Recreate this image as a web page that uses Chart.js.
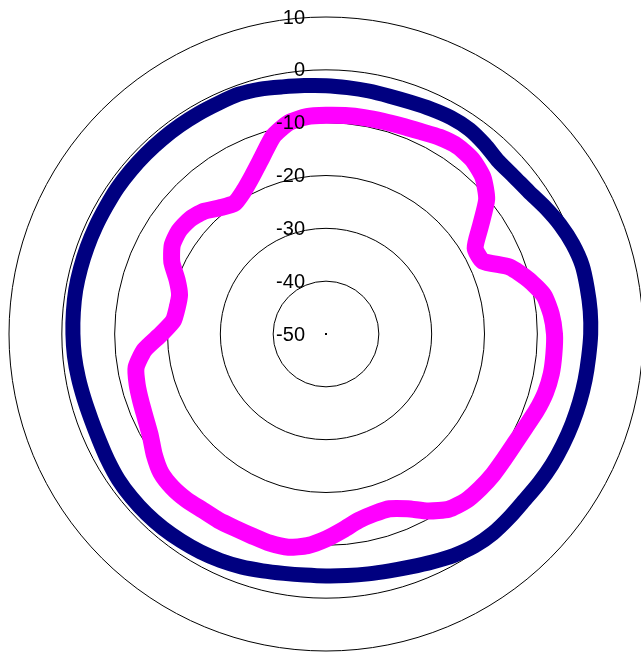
<!DOCTYPE html>
<html>
<head>
<meta charset="utf-8">
<script src="https://cdn.jsdelivr.net/npm/chart.js@4.4.1/dist/chart.umd.min.js"></script>
<style>
  html, body { margin: 0; padding: 0; background: #fff; overflow: hidden; }
  #wrap { position: absolute; left: 0; top: 0; width: 660px; height: 670px; }
</style>
</head>
<body>
<div id="wrap"><canvas id="chart" width="660" height="670"></canvas></div>
<script>
// angles in degrees, clockwise from the top
const angles = [];
for (let a = 0; a < 360; a += 5) angles.push(a);

// dB values, one every 5 degrees
const navyLevels = [
  -3.0, -3.2, -3.3, -3.4, -3.3, -3.0, -2.7, -2.7, -3.2, -3.8,
  -3.6, -3.1, -2.1, -1.1, -0.3, 0.2, 0.2, 0.2, 0.1, -0.1,
  -0.2, -0.3, -0.4, -0.5, -0.6, -0.8, -1.0, -0.9, -0.8, -1.0,
  -1.6, -2.4, -3.1, -3.6, -3.9, -4.1, -4.2, -4.2, -4.0, -3.6,
  -3.1, -2.7, -2.4, -2.2, -2.0, -1.9, -1.9, -2.0, -2.3, -2.6,
  -2.7, -2.6, -2.4, -2.2, -2.1, -2.0, -1.9, -1.9, -1.9, -1.9,
  -1.9, -1.8, -1.8, -1.8, -1.8, -1.8, -1.8, -1.8, -1.7, -2.0,
  -2.5, -2.8
];

const magentaLevels = [
  -8.6, -8.5, -8.4, -8.3, -8.1, -7.7, -7.0, -6.6, -6.9, -8.0,
  -10.3, -14.3, -17.4, -17.3, -13.0, -10.3, -8.1, -7.2, -6.75, -6.7,
  -6.7, -7.0, -7.6, -8.3, -8.7, -8.8, -8.7, -8.7, -8.8, -9.5,
  -11.3, -13.5, -14.8, -14.8, -14.2, -12.8, -11.2, -9.8, -9.0, -9.0,
  -9.3, -9.4, -9.3, -9.3, -9.0, -8.9, -9.2, -10.3, -11.6, -12.3,
  -12.7, -13.0, -13.5, -15.5, -18.8, -21.0, -21.4, -21.3, -20.0, -17.8,
  -16.4, -16.0, -16.3, -17.2, -18.8, -19.8, -18.8, -17.0, -14.5, -11.3,
  -9.4, -8.7
];

const tickValues = [-50, -40, -30, -20, -10, 0, 10];

// the tick labels sit to the left of the centre line, right aligned
const tickLabelPlugin = {
  id: 'tickLabels',
  afterDraw(chart) {
    const scale = chart.scales.r;
    const ctx = chart.ctx;
    ctx.save();
    ctx.fillStyle = '#000';
    ctx.fillRect(scale.xCenter - 1, scale.yCenter - 1, 2, 2);
    ctx.font = '20px "Liberation Sans", Arial, sans-serif';
    ctx.textAlign = 'right';
    ctx.textBaseline = 'middle';
    tickValues.forEach(v => {
      const y = scale.yCenter - scale.getDistanceFromCenterForValue(v);
      ctx.fillText(String(v), scale.xCenter - 21, y + 1);
    });
    ctx.restore();
  }
};

new Chart(document.getElementById('chart'), {
  type: 'radar',
  data: {
    labels: angles.map(a => a + '°'),
    datasets: [
      {
        label: 'Navy',
        data: navyLevels,
        borderColor: '#000080',
        borderWidth: 15,
        borderJoinStyle: 'round',
        pointRadius: 0,
        fill: false,
        tension: 0.25
      },
      {
        label: 'Magenta',
        data: magentaLevels,
        borderColor: '#ff00ff',
        borderWidth: 17,
        borderJoinStyle: 'round',
        pointRadius: 0,
        fill: false,
        tension: 0.2
      }
    ]
  },
  options: {
    responsive: false,
    animation: false,
    layout: { padding: { left: 9, top: 17, right: 17, bottom: 19 } },
    plugins: {
      legend: { display: false },
      tooltip: { enabled: false }
    },
    scales: {
      r: {
        min: -50,
        max: 10,
        ticks: { stepSize: 10, display: false },
        grid: { circular: true, color: '#000', lineWidth: 1 },
        angleLines: { display: false },
        pointLabels: { display: false }
      }
    }
  },
  plugins: [tickLabelPlugin]
});
</script>
</body>
</html>
